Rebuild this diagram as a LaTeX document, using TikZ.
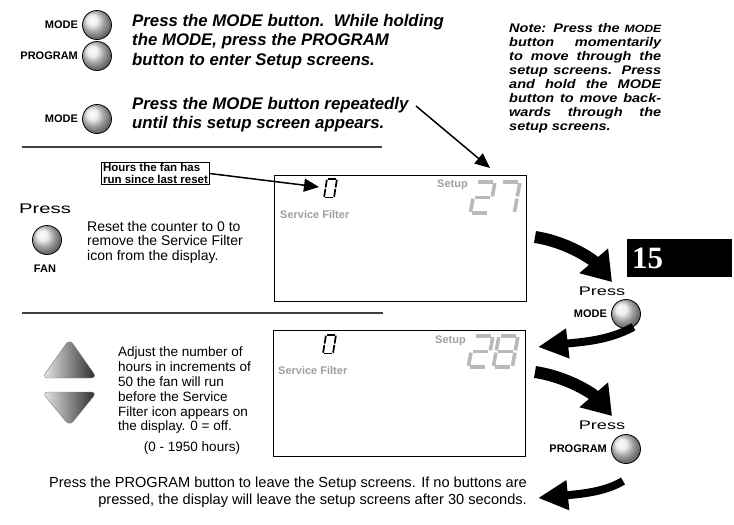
\documentclass[tikz,border=0pt]{standalone}
\usepackage{fontspec}
\setmainfont{Liberation Sans}
\newfontfamily\pressfont[FakeStretch=1.45]{Liberation Sans}
\newfontfamily\notefont[FakeStretch=1.16]{Liberation Sans}
\newfontfamily\chapfont{Liberation Serif}
\usetikzlibrary{arrows.meta,positioning}

% seven segment digit, segments a..g
\tikzset{
  every seg/.style={},
  lcd/.pic={
    \foreach \seg in {#1}{
      \if a\seg \draw[every seg] (.1,0) -- (.9,0); \fi
      \if b\seg \draw[every seg] (1,.07) -- (1,.93); \fi
      \if c\seg \draw[every seg] (1,1.07) -- (1,1.93); \fi
      \if d\seg \draw[every seg] (.1,2) -- (.9,2); \fi
      \if e\seg \draw[every seg] (0,1.07) -- (0,1.93); \fi
      \if f\seg \draw[every seg] (0,.07) -- (0,.93); \fi
      \if g\seg \draw[every seg] (.1,1) -- (.9,1); \fi
    }
  }
}

\begin{document}
\begin{tikzpicture}[x=1pt, y=-1pt,
    btn/.style={circle, draw=black, line width=0.8pt, shading=ball, ball color=gray!18, minimum size=29pt, inner sep=0pt},
    keyname/.style={font=\fontsize{11}{12}\selectfont\bfseries, inner sep=0pt},
    press/.style={font=\fontsize{12.5}{14}\pressfont, inner sep=0pt},
    instr/.style={font=\fontsize{16.8}{19.5}\selectfont\bfseries\itshape, align=left, anchor=north west, inner sep=0pt},
    note/.style={font=\fontsize{12.5}{14}\notefont\bfseries\itshape, align=left, anchor=north west, inner sep=0pt},
    body/.style={font=\fontsize{13.5}{14.8}\selectfont, align=left, anchor=north west, inner sep=0pt},
    tag/.style={draw, line width=0.8pt, font=\fontsize{11.5}{11.5}\selectfont\bfseries, align=left, inner sep=1.3pt},
    lcdbox/.style={draw, line width=1.2pt, minimum width=252pt, minimum height=126pt, anchor=north west, inner sep=0pt},
    lcdtext/.style={font=\fontsize{11}{12}\selectfont\bfseries, text=gray!75, inner sep=0pt, anchor=base west},
    bigseg/.style={xscale=19, yscale=15.5, xslant=0.15, every seg/.style={draw=gray!55, line width=3.6pt}},
    smallseg/.style={xscale=10, yscale=9.2, xslant=0.15, every seg/.style={draw=black, line width=1.7pt}},
    divider/.style={draw=black!75, line width=1.5pt},
    pointer/.style={line width=1.5pt, -{Triangle[length=15pt 0, width=13pt 0]}},
    swoosh/.style={line width=12pt, -{Triangle[length=28pt 0, width=36pt 0]}},
    swooshthin/.style={line width=8pt, -{Triangle[length=30pt 0, width=28pt 0]}}
]
\useasboundingbox (0,0) rectangle (734,525);

% entering setup
\node[btn] (btnA) at (97,25) {};
\node[keyname, left=4pt of btnA] (modeA) {MODE};
\node[btn] (btnB) at (97,56) {};
\node[keyname, left=4pt of btnB] (progA) {PROGRAM};
\node[btn] (btnC) at (97,119) {};
\node[keyname, left=4pt of btnC] (modeB) {MODE};
\node[instr] (enter) at (132,14) {Press the MODE button.\ \ While holding\\the MODE, press the PROGRAM\\button to enter Setup screens.};
\node[instr] (repeat) at (132,97) {Press the MODE button repeatedly\\until this setup screen appears.};
\node[note] (note) at (509,23) {\makebox[152pt][s]{Note: Press the {\fontsize{10.5}{14}\selectfont MODE}}\\
  \makebox[152pt][s]{button momentarily}\\
  \makebox[152pt][s]{to move through the}\\
  \makebox[152pt][s]{setup screens. Press}\\
  \makebox[152pt][s]{and hold the MODE}\\
  \makebox[152pt][s]{button to move back-}\\
  \makebox[152pt][s]{wards through the}\\
  setup screens.};
\draw[divider] (22,147) -- (382,147);

% screen 27
\node[lcdbox] (lcdA) at (274,175) {};
\pic[smallseg] at (327,179) {lcd={a,b,c,d,e,f}};
\node[lcdtext] (setupA) at (437,187) {Setup};
\pic[bigseg] at (476,182) {lcd={a,b,g,e,d}};
\pic[bigseg] at (501,182) {lcd={a,b,c}};
\node[lcdtext] (filterA) at (280,218) {Service Filter};
\coordinate (zeroA) at (319,187);
\coordinate (cornerA) at (490,168);
\coordinate (repeatend) at (416,106);
\draw[pointer] (repeatend) -- (cornerA);
\node[tag] (hours) at (155.5,173.5) {Hours the fan has\\run since last reset};
\draw[pointer] (hours.east) -- (zeroA);
\node[press, font=\fontsize{14}{14}\pressfont] (pressA) at (45,209) {Press};
\node[btn] (fan) at (47,240) {};
\node[keyname] (fanname) at (45,269) {FAN};
\node[body, font=\fontsize{14}{14.5}\selectfont] (reset) at (87,221) {Reset the counter to 0 to\\remove the Service Filter\\icon from the display.};
\draw[divider] (22,313) -- (383,313);

% screen 28
\node[lcdbox] (lcdB) at (273,330) {};
\pic[smallseg] at (326,335) {lcd={a,b,c,d,e,f}};
\node[lcdtext] (setupB) at (435,343) {Setup};
\pic[bigseg] at (474,336) {lcd={a,b,g,e,d}};
\pic[bigseg] at (499,336) {lcd={a,b,c,d,e,f,g}};
\node[lcdtext] (filterB) at (278,374) {Service Filter};
\shadedraw[draw=gray, left color=gray!15, right color=black!85, rounded corners=6pt] (42,378) -- (69.5,339) -- (97,378) -- cycle;
\shadedraw[draw=gray, left color=gray!15, right color=black!85, rounded corners=6pt] (42,392) -- (97,392) -- (69.5,426) -- cycle;
\node[body] (adjust) at (118,347) {Adjust the number of\\hours in increments of\\50 the fan will run\\before the Service\\Filter icon appears on\\the display. 0 = off.};
\node[body, anchor=base] (range) at (192,451) {(0 - 1950 hours)};
\node[body, font=\fontsize{14.6}{17}\selectfont, align=right, anchor=north east] (leave) at (527,477) {Press the PROGRAM button to leave the Setup screens. If no buttons are\\pressed, the display will leave the setup screens after 30 seconds.};

% right column
\node[fill=black, text=white, font=\fontsize{31}{31}\chapfont\bfseries, anchor=north west, text width=95pt, minimum height=38pt, inner xsep=5pt, inner ysep=0pt, align=left] (chapter) at (627,239) {15};
\node[press] (pressB) at (602,291) {Press};
\node[btn] (btnD) at (626,314) {};
\node[keyname, left=4pt of btnD] (modeR) {MODE};
\node[press] (pressC) at (602,425) {Press};
\node[btn] (btnE) at (626,449) {};
\node[keyname, left=4pt of btnE] (progR) {PROGRAM};
\coordinate (tailA) at (535,237);
\coordinate (tipA) at (612,282);
\coordinate (tipB) at (538,347);
\coordinate (tailC) at (535,372);
\coordinate (tipC) at (612,416);
\coordinate (tailD) at (623,481);
\coordinate (tipD) at (538,498);
\draw[swoosh] (tailA) .. controls (568,242) and (593,260) .. (tipA);
\draw[swooshthin] (btnD.-60) .. controls (608,341) and (580,342) .. (tipB);
\draw[swoosh] (tailC) .. controls (568,377) and (593,394) .. (tipC);
\draw[swooshthin] (tailD) .. controls (605,492) and (580,494) .. (tipD);
\end{tikzpicture}
\end{document}
